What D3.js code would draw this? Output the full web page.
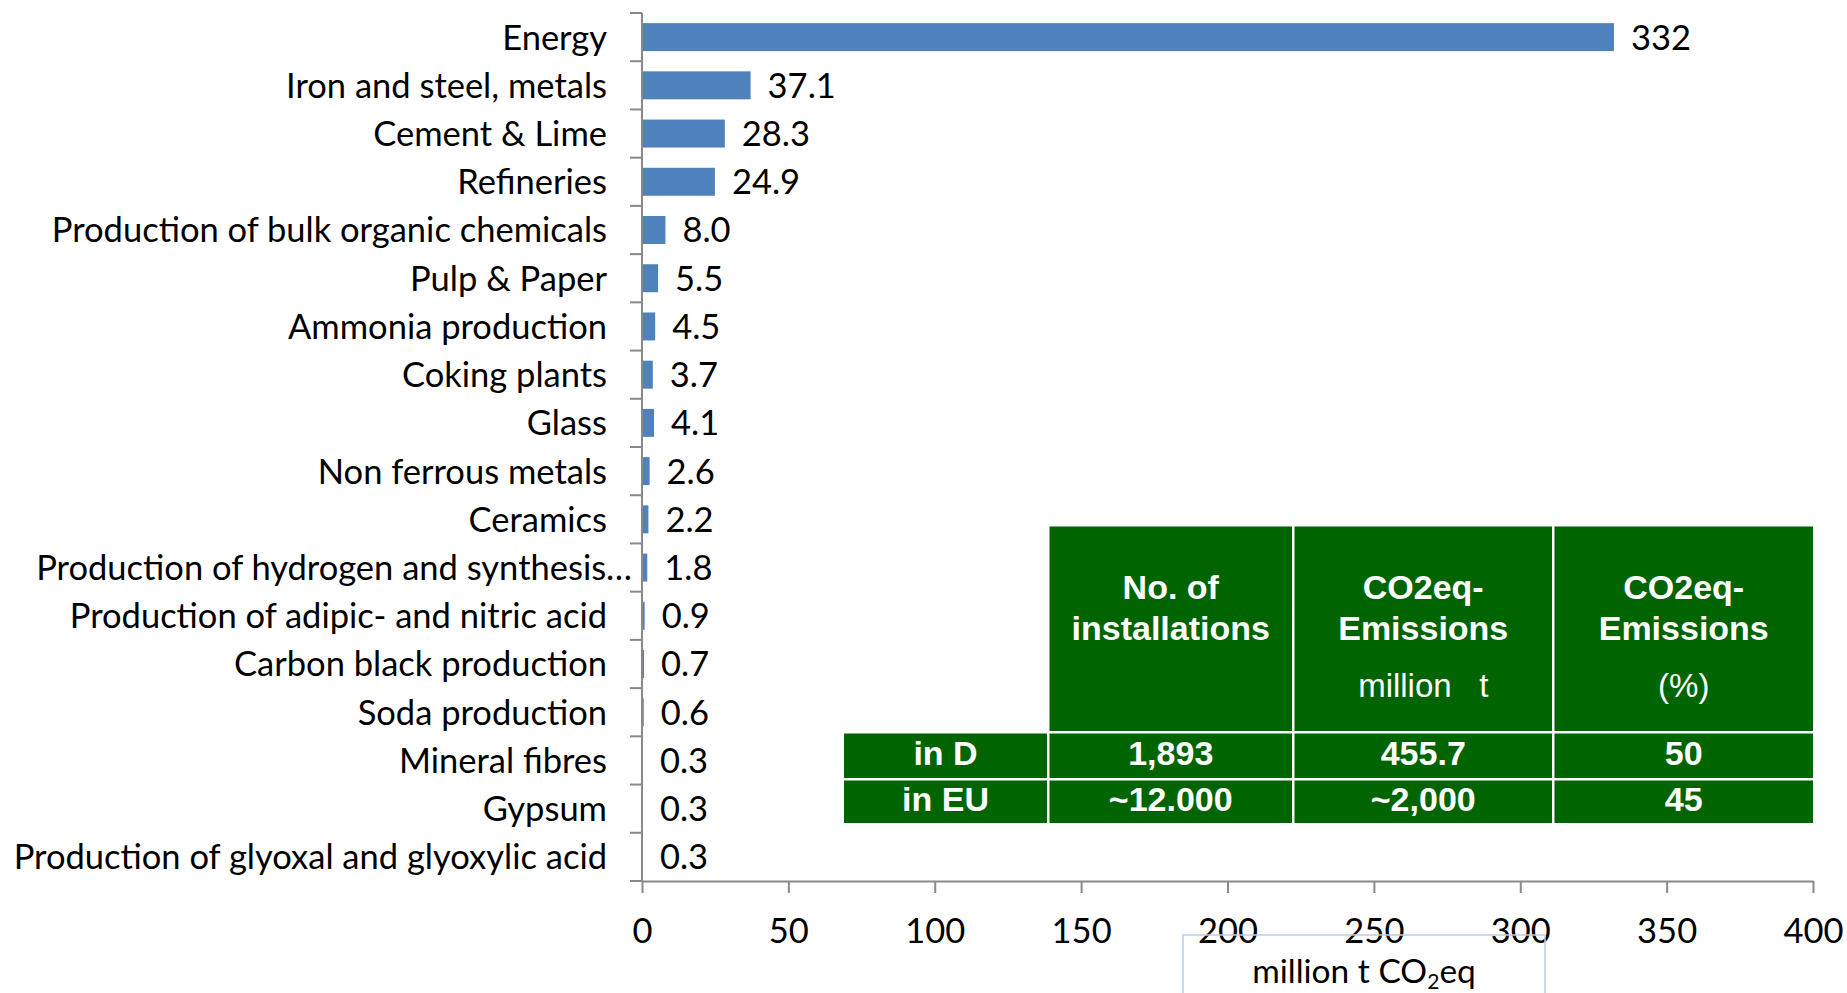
<!DOCTYPE html>
<html>
<head>
<meta charset="utf-8">
<script src="https://cdn.jsdelivr.net/npm/d3@7"></script>
<style>
  html, body { margin: 0; padding: 0; background: #fff; }
  svg { display: block; }
</style>
</head>
<body>
<svg id="chart" width="1847" height="993"></svg>
<script>
// Sectors covered by emissions trading, emissions in million t CO2eq
const categories = [
  "Energy",
  "Iron and steel, metals",
  "Cement & Lime",
  "Refineries",
  "Production of bulk organic chemicals",
  "Pulp & Paper",
  "Ammonia production",
  "Coking plants",
  "Glass",
  "Non ferrous metals",
  "Ceramics",
  "Production of hydrogen and synthesis…",
  "Production of adipic- and nitric acid",
  "Carbon black production",
  "Soda production",
  "Mineral fibres",
  "Gypsum",
  "Production of glyoxal and glyoxylic acid"
];
const emissions = [332, 37.1, 28.3, 24.9, 8.0, 5.5, 4.5, 3.7, 4.1, 2.6, 2.2, 1.8, 0.9, 0.7, 0.6, 0.3, 0.3, 0.3];
const xTicks = [0, 50, 100, 150, 200, 250, 300, 350, 400];

// Summary table
const tableHeaders = [["No. of", "installations"], ["CO2eq-", "Emissions"], ["CO2eq-", "Emissions"]];
const tableUnits = ["", "million   t", "(%)"];
const tableRows = [
  ["in D", "1,893", "455.7", "50"],
  ["in EU", "~12.000", "~2,000", "45"]
];

const svg = d3.select("#chart");
const FONT = "Lato, Carlito, Calibri, sans-serif";
const FS = 34.5;
const axisColor = "#898989";
const barColor = "#4F81BD";
const green = "#006400";

const plot = { left: 642, right: 1813, top: 13, bottom: 881 };

const x = d3.scaleLinear().domain([0, 400]).range([plot.left, plot.right]);
const y = d3.scaleBand().domain(categories).range([plot.top, plot.bottom])
  .paddingInner(0.42).paddingOuter(0.21);

// Bars
svg.append("g").selectAll("rect")
  .data(categories)
  .join("rect")
  .attr("x", x(0))
  .attr("y", d => y(d))
  .attr("width", (d, i) => x(emissions[i]) - x(0))
  .attr("height", y.bandwidth())
  .attr("fill", barColor);

// Value labels
const fmt = v => v >= 100 ? d3.format(".0f")(v) : d3.format(".1f")(v);
svg.append("g").selectAll("text")
  .data(categories)
  .join("text")
  .attr("x", (d, i) => x(emissions[i]) + 17)
  .attr("y", d => y(d) + y.bandwidth() / 2)
  .attr("dy", "0.36em")
  .attr("font-family", FONT)
  .attr("font-size", FS)
  .attr("fill", "#000")
  .text((d, i) => fmt(emissions[i]));

// Category axis: line, tick marks between categories, labels
const yAxis = svg.append("g");
yAxis.append("line")
  .attr("x1", plot.left).attr("x2", plot.left)
  .attr("y1", plot.top).attr("y2", plot.bottom)
  .attr("stroke", axisColor).attr("stroke-width", 2);
const step = y.step();
const boundaries = d3.range(categories.length + 1).map(i => plot.top + i * step);
yAxis.selectAll("line.tick")
  .data(boundaries)
  .join("line")
  .attr("class", "tick")
  .attr("x1", plot.left - 12).attr("x2", plot.left)
  .attr("y1", d => d).attr("y2", d => d)
  .attr("stroke", axisColor).attr("stroke-width", 2);
yAxis.selectAll("text")
  .data(categories)
  .join("text")
  .attr("x", d => d.endsWith("…") ? plot.left - 10 : plot.left - 35)
  .attr("y", d => y(d) + y.bandwidth() / 2)
  .attr("dy", "0.36em")
  .attr("text-anchor", "end")
  .attr("font-family", FONT)
  .attr("font-size", FS)
  .attr("fill", "#000")
  .text(d => d);

// Value axis
const xAxis = svg.append("g")
  .attr("transform", `translate(0,${plot.bottom})`)
  .call(d3.axisBottom(x).tickValues(xTicks).tickSize(12).tickPadding(26).tickSizeOuter(0));
xAxis.select(".domain").attr("stroke", axisColor).attr("stroke-width", 2);
xAxis.selectAll(".tick line").attr("stroke", axisColor).attr("stroke-width", 2);
xAxis.selectAll(".tick text")
  .attr("font-family", FONT)
  .attr("font-size", FS)
  .attr("fill", "#000");

// Axis title in its text box
const titleBox = svg.append("g");
titleBox.append("rect")
  .attr("x", 1183).attr("y", 935)
  .attr("width", 362).attr("height", 80)
  .attr("fill", "none")
  .attr("stroke", "#b9cde5").attr("stroke-width", 1.5);
const title = titleBox.append("text")
  .attr("x", 1364).attr("y", 983)
  .attr("text-anchor", "middle")
  .attr("font-family", FONT)
  .attr("font-size", 33.5)
  .attr("fill", "#000");
title.append("tspan").text("million t CO");
title.append("tspan").attr("font-size", 21).attr("dy", 6).text("2");
title.append("tspan").attr("dy", -6).text("eq");

// Summary table
const colX = [844, 1049.5, 1294.5, 1554.5, 1813];
const gap = 2.5;
const rowY = [526.5, 733.5, 780.5, 823];
const table = svg.append("g").attr("font-family", "'Liberation Sans', Arial, sans-serif").attr("fill", "#fff");

// header cells (first header cell left empty)
tableHeaders.forEach((lines, j) => {
  const c = j + 1;
  const x0 = colX[c], x1 = colX[c + 1] - (c + 1 < colX.length - 1 ? gap : 0);
  table.append("rect")
    .attr("x", x0).attr("y", rowY[0])
    .attr("width", x1 - x0).attr("height", rowY[1] - gap - rowY[0])
    .attr("fill", green);
  const cx = (x0 + x1) / 2;
  lines.forEach((t, k) => {
    table.append("text")
      .attr("x", cx).attr("y", rowY[0] + 72 + k * 41.5)
      .attr("text-anchor", "middle")
      .attr("font-weight", "bold")
      .attr("font-size", 34)
      .text(t);
  });
  if (tableUnits[c - 1]) {
    table.append("text")
      .attr("x", cx).attr("y", rowY[0] + 170)
      .attr("text-anchor", "middle")
      .attr("font-size", 33)
      .style("white-space", "pre")
      .text(tableUnits[c - 1]);
  }
});

// body rows
tableRows.forEach((row, r) => {
  const y0 = rowY[r + 1], y1 = rowY[r + 2] - (r + 2 < rowY.length - 1 ? gap : 0);
  row.forEach((cell, c) => {
    const x0 = colX[c], x1 = colX[c + 1] - (c + 1 < colX.length - 1 ? gap : 0);
    table.append("rect")
      .attr("x", x0).attr("y", y0)
      .attr("width", x1 - x0).attr("height", y1 - y0)
      .attr("fill", green);
    table.append("text")
      .attr("x", (x0 + x1) / 2).attr("y", (y0 + y1) / 2 - 3)
      .attr("dy", "0.36em")
      .attr("text-anchor", "middle")
      .attr("font-weight", "bold")
      .attr("font-size", 34)
      .text(cell);
  });
});
</script>
</body>
</html>
